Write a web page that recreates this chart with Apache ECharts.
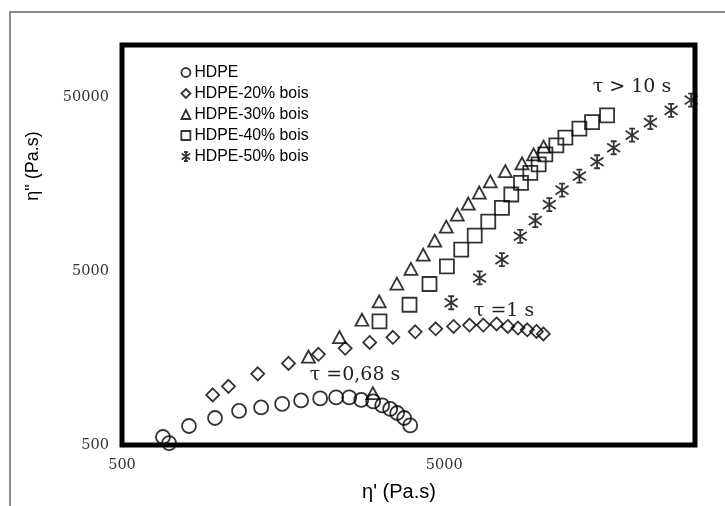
<!DOCTYPE html>
<html>
<head>
<meta charset="utf-8">
<script src="https://cdn.jsdelivr.net/npm/echarts@6/dist/echarts.min.js"></script>
<style>
  html, body { margin: 0; padding: 0; background: #fff; }
  #chart { width: 725px; height: 506px; }
</style>
</head>
<body>
<div id="chart"></div>
<script>
// Cole-Cole plot: loss viscosity eta'' versus storage viscosity eta' (Pa.s)
const seriesNames = ['HDPE', 'HDPE-20% bois', 'HDPE-30% bois', 'HDPE-40% bois', 'HDPE-50% bois'];

const hdpeEta1 = [670, 700, 807, 972, 1154, 1351, 1570, 1798, 2060, 2309, 2535, 2763, 3009, 3209, 3398, 3572, 3756, 3920];
const hdpeEta2 = [556, 513, 643, 715, 785, 822, 862, 902, 927, 939, 939, 908, 891, 845, 806, 764, 715, 648];

const bois20Eta1 = [956, 1070, 1319, 1643, 2035, 2463, 2935, 3464, 4064, 4705, 5344, 5990, 6608, 7268, 7873, 8468, 9050, 9664, 10150];
const bois20Eta2 = [971, 1087, 1283, 1474, 1662, 1800, 1944, 2082, 2240, 2331, 2403, 2448, 2448, 2485, 2403, 2353, 2300, 2249, 2176];

const bois30Eta1 = [1895, 2365, 2777, 3002, 3141, 3565, 3940, 4302, 4672, 5072, 5488, 5936, 6423, 6948, 7734, 8716, 9468, 10170];
const bois30Eta2 = [1614, 2088, 2627, 993, 3349, 4236, 5148, 6226, 7496, 9023, 10583, 12245, 14170, 16403, 18800, 20826, 23473, 25992];

const bois40Eta1 = [3148, 3901, 4500, 5097, 5645, 6217, 6848, 7553, 8074, 8653, 9248, 9817, 10298, 11141, 11882, 13133, 14373, 16004];
const bois40Eta2 = [2568, 3205, 4219, 5330, 6650, 8010, 9644, 11568, 13800, 16122, 18404, 20552, 23473, 26441, 29288, 33004, 36020, 39385];

const bois50Eta1 = [5256, 6436, 7553, 8609, 9583, 10595, 11603, 13133, 14900, 16779, 19141, 21813, 25290, 29180];
const bois50Eta2 = [3291, 4569, 5825, 7936, 9775, 12083, 14612, 17594, 21302, 25643, 30313, 35742, 42088, 48235];

const xTickLabels = [500, 5000];
const yTickLabels = [500, 5000, 50000];

const relaxationNotes = ['\u03c4 > 10 s', '\u03c4 =1 s', '\u03c4 =0,68 s'];

const starPath = 'path://M6,0 L6,12 M0.5,2 L11.5,10 M0.5,10 L11.5,2 M3.5,0 L8.5,0 M3.5,12 L8.5,12';

const markerShapes = ['circle', 'diamond', 'triangle', 'rect', starPath];
const markerSizes = [14, 13, [13, 12], 14, 13];

const xs = [hdpeEta1, bois20Eta1, bois30Eta1, bois40Eta1, bois50Eta1];
const ys = [hdpeEta2, bois20Eta2, bois30Eta2, bois40Eta2, bois50Eta2];

function pairs(a, b) { return a.map((v, i) => [v, b[i]]); }
function plainNumber(v) { return String(Math.round(v)); }

const chart = echarts.init(document.getElementById('chart'), null, { renderer: 'canvas' });

const hollow = { color: 'rgba(255,255,255,0)', borderColor: '#000', borderWidth: 1.8 };
const tickFont = { color: '#333', fontFamily: 'DejaVu Serif', fontSize: 14.5, margin: 13, formatter: plainNumber };

const option = {
  backgroundColor: '#fff',
  animation: false,
  grid: {
    left: 122, right: 30, top: 45, bottom: 61,
    show: true, borderColor: '#000', borderWidth: 5, backgroundColor: '#fff'
  },
  xAxis: {
    type: 'log', logBase: 10, min: 500, max: 30000,
    axisLine: { show: false }, axisTick: { show: false }, splitLine: { show: false },
    axisLabel: Object.assign({ customValues: xTickLabels }, tickFont)
  },
  yAxis: {
    type: 'log', logBase: 10, min: 500, max: 100000,
    axisLine: { show: false }, axisTick: { show: false }, splitLine: { show: false },
    axisLabel: Object.assign({ customValues: yTickLabels }, tickFont)
  },
  legend: {
    orient: 'vertical', left: 180.5, top: 64.5, padding: 0,
    itemWidth: 9, itemHeight: 9, itemGap: 5,
    data: seriesNames.map((n, i) => ({ name: n, icon: markerShapes[i] })),
    itemStyle: { color: 'rgba(255,255,255,0)', borderColor: '#000', borderWidth: 1.8 },
    textStyle: { fontFamily: 'Liberation Sans', fontSize: 15.8, color: '#000', lineHeight: 16, padding: [0, 0, 0, -1] }
  },
  series: seriesNames.map((n, i) => ({
    name: n, type: 'scatter',
    symbol: markerShapes[i], symbolSize: markerSizes[i],
    itemStyle: hollow,
    emphasis: { disabled: true },
    data: pairs(xs[i], ys[i])
  })),
  graphic: [
    { type: 'rect', silent: true, z: -10, shape: { x: 10, y: 12, width: 800, height: 600 },
      style: { fill: 'none', stroke: '#8c8c8c', lineWidth: 2 } },
    { type: 'text', x: 399, y: 492, style: { text: "\u03b7' (Pa.s)", font: '20px "Liberation Sans"', fill: '#000', align: 'center', verticalAlign: 'middle' } },
    { type: 'text', x: 33, y: 166, rotation: Math.PI / 2, style: { text: '\u03b7" (Pa.s)', font: '18px "Liberation Sans"', fill: '#000', align: 'center', verticalAlign: 'middle' } },
    { type: 'text', x: 632, y: 87, style: { text: relaxationNotes[0], font: '19px "DejaVu Serif"', fill: '#222', align: 'center', verticalAlign: 'middle' } },
    { type: 'text', x: 504, y: 311, style: { text: relaxationNotes[1], font: '19px "DejaVu Serif"', fill: '#222', align: 'center', verticalAlign: 'middle' } },
    { type: 'text', x: 355, y: 375, style: { text: relaxationNotes[2], font: '19px "DejaVu Serif"', fill: '#222', align: 'center', verticalAlign: 'middle' } }
  ]
};

chart.setOption(option);
</script>
</body>
</html>
